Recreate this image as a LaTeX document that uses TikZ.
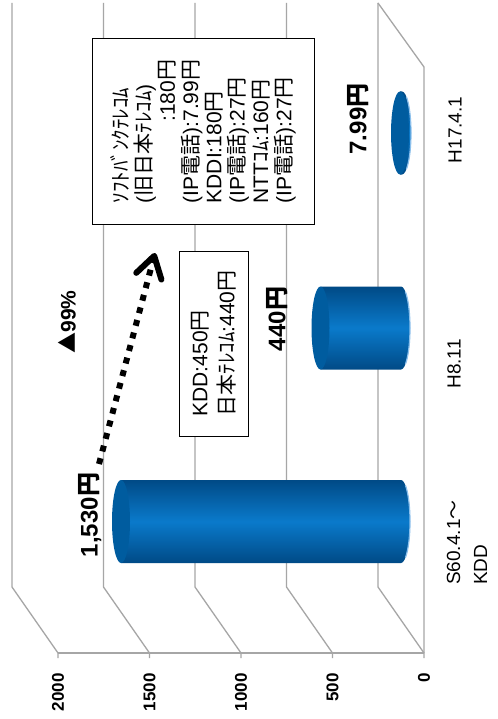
\documentclass[tikz,border=0pt]{standalone}
\usepackage{fontspec}
\setmainfont{Liberation Sans}
\newfontfamily\cjk{Noto Sans CJK JP}
\usetikzlibrary{arrows.meta}
\definecolor{gridc}{HTML}{A6A6A6}
\definecolor{cdark}{HTML}{004A86}
\definecolor{cmid}{HTML}{0A7ACB}
\definecolor{ccap}{HTML}{005C9F}
\definecolor{crim}{HTML}{8CC0EC}
\newcommand\jp[1]{{\cjk #1}}
\newcommand\mycyl[3]{%
  \path[top color=cdark, bottom color=cdark, middle color=cmid]
    (#1,#3-41.5) -- (#2,#3-41.5) arc[start angle=-90,end angle=90,x radius=9,y radius=41.5] -- (#1,#3+41.5) -- cycle;
  \draw[crim, line width=1.2bp] (#2,#3) ++(-60:9 and 41.5) arc[start angle=-60,end angle=60,x radius=9,y radius=41.5];
  \fill[ccap] (#1,#3) ellipse[x radius=9, y radius=41.5];
}
\begin{document}
\begin{tikzpicture}[x=1bp,y=-1bp,
  grid/.style={draw=gridc, line width=1.3bp},
  ticklab/.style={font=\bfseries\fontsize{17bp}{20bp}\selectfont, rotate=90, inner sep=0pt, anchor=east},
  catlab/.style={font=\fontsize{19bp}{27bp}\selectfont, rotate=90, inner sep=0pt, align=left},
  vallab/.style={font=\bfseries\fontsize{24bp}{28bp}\selectfont, rotate=90, inner sep=0pt},
  notebox/.style={draw=black, line width=1bp, fill=white, rotate=90, align=left, inner sep=0pt},
]
\useasboundingbox (0,0) rectangle (498,719);
\fill[white] (0,0) rectangle (498,719);

% walls and gridlines
\foreach \k in {0,...,4} {
  \pgfmathsetmacro\xf{424-91.5*\k}
  \pgfmathsetmacro\xb{\xf-46}
  \draw[grid] (\xb,3) -- (\xb,587) -- (\xf,653) -- (\xf,658);
}
\draw[grid] (58,653) -- (424,653);
\draw[grid] (378,3) -- (424,67) -- (424,653);

% cylinders
\mycyl{121}{401}{521.5}
\mycyl{320.5}{401}{328}
\mycyl{400}{402}{133}

% value labels
\node[vallab] (v1) at (90,515) {1,530\jp{円}};
\node[vallab] (v2) at (277,319) {440\jp{円}};
\node[vallab] (v3) at (358,119) {7.99\jp{円}};
\node[vallab, font=\bfseries\fontsize{21bp}{24bp}\selectfont] (pct) at (67,322) {\jp{▲}99\%};

% arrow
\coordinate (aS) at (99,464);
\coordinate (aE) at (155,253);
\draw[line width=6bp, dash pattern=on 6bp off 7bp, -{Straight Barb[length=21bp,width=26bp,line width=6bp,round]}] (aS) -- (aE);

% note boxes
\node[notebox, minimum width=185bp, minimum height=69bp, font=\fontsize{21bp}{27bp}\selectfont] (b1) at (213.5,343.5)
  {KDD:450\jp{円}\\\jp{日本ﾃﾚｺﾑ}:440\jp{円}};
\node[notebox, minimum width=185bp, minimum height=222bp, font=\fontsize{21bp}{23.3bp}\selectfont] (b2) at (203,131.5)
  {\jp{ｿﾌﾄﾊﾞﾝｸﾃﾚｺﾑ}\\
   (\jp{旧日本ﾃﾚｺﾑ})\\
   \phantom{(IP\jp{電話}).}:180\jp{円}\\
   (IP\jp{電話}):7.99\jp{円}\\
   KDDI:180\jp{円}\\
   (IP\jp{電話}):27\jp{円}\\
   NTT\jp{ｺﾑ}:160\jp{円}\\
   (IP\jp{電話}):27\jp{円}};

% category labels
\node[catlab, anchor=west] (c1) at (467,585) {S60.4.1\jp{～}\\KDD};
\node[catlab] (c2) at (454,364) {H8.11};
\node[catlab] (c3) at (455,130) {H17.4.1};

% value axis labels
\node[ticklab] (t0) at (424,673) {0};
\node[ticklab] (t1) at (332.5,673) {500};
\node[ticklab] (t2) at (241,673) {1000};
\node[ticklab] (t3) at (149.5,673) {1500};
\node[ticklab] (t4) at (58,673) {2000};
\end{tikzpicture}
\end{document}
